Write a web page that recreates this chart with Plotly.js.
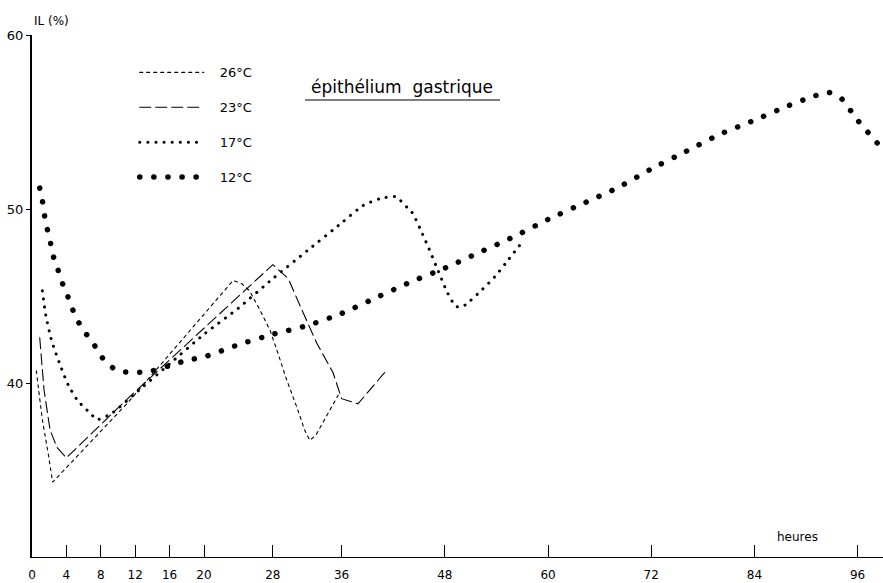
<!DOCTYPE html>
<html>
<head>
<meta charset="utf-8">
<script src="https://cdn.plot.ly/plotly-3.0.1.min.js"></script>
<style>
  html, body { margin: 0; padding: 0; background: #fff; }
  #chart { width: 883px; height: 583px; }
  .scatterlayer .js-line, .legendlines .js-line { stroke-linecap: round !important; }
</style>
</head>
<body>
<div id="chart"></div>
<script>
// ---- data ----
const seriesNames = ["26°C", "23°C", "17°C", "12°C"];

const hours26 = [0.5, 1.2, 1.9, 2.4, 11.2, 23.4, 24.4, 25.3, 26.5, 27.7, 28.6, 29.6, 30.8, 31.7, 32.3, 33.0, 35.6];
const vals26  = [40.7, 37.9, 35.9, 34.3, 38.9, 45.9, 45.7, 45.3, 44.2, 43.0, 41.7, 40.2, 38.6, 37.3, 36.7, 37.0, 39.3];

const hours23 = [0.9, 1.4, 2.1, 2.9, 4.0, 10.9, 28.0, 29.8, 31.2, 33.1, 35.0, 36.0, 37.9, 41.0];
const vals23  = [42.6, 39.6, 37.3, 36.3, 35.7, 39.0, 46.8, 46.0, 44.4, 42.3, 40.6, 39.1, 38.8, 40.6];

const hours17 = [1.2, 1.6, 2.3, 3.3, 4.2, 5.3, 6.7, 7.6, 9.4, 12, 16, 20, 24, 28, 32, 36, 38.5, 40.5, 42.3, 43.6, 44.2, 45.1, 46.0, 47.1, 48.3, 49.3, 50.1, 50.9, 52.4, 53.8, 55.1, 57.0];
const vals17  = [45.3, 43.9, 42.4, 41.0, 39.9, 39.0, 38.3, 37.9, 38.3, 39.4, 41.1, 42.8, 44.3, 46.0, 47.6, 49.2, 50.2, 50.6, 50.7, 50.1, 49.8, 48.9, 47.9, 46.6, 45.2, 44.4, 44.4, 44.7, 45.4, 46.1, 46.9, 48.1];

const hours12 = [0.9, 1.2, 1.4, 1.7, 2.1, 2.4, 2.9, 3.4, 4.0, 4.5, 5.2, 6.0, 7.0, 7.8, 8.8, 10, 12, 14, 16, 18, 20, 24, 28, 32, 36, 40, 44, 48, 52, 56, 60, 64, 68, 72, 76, 80, 84, 88, 91, 92.6, 94, 96, 98.8];
const vals12  = [51.2, 50.5, 49.8, 49.0, 48.2, 47.4, 46.7, 45.9, 45.2, 44.5, 43.7, 43.0, 42.4, 41.7, 41.1, 40.7, 40.6, 40.7, 41.0, 41.3, 41.5, 42.2, 42.8, 43.3, 44.0, 44.9, 45.8, 46.6, 47.5, 48.4, 49.4, 50.3, 51.2, 52.3, 53.3, 54.3, 55.1, 55.95, 56.5, 56.7, 56.4, 55.1, 53.5];

const xTickVals = [0, 4, 8, 12, 16, 20, 28, 36, 48, 60, 72, 84, 96];
const xTickText = ["0", "4", "8", "12", "16", "20", "28", "36", "48", "60", "72", "84", "96"];
const yTickVals = [40, 50, 60];
const yTickText = ["40", "50", "60"];

const chartTitle = "épithélium  gastrique";
const yLabel = "IL (%)";
const xLabel = "heures";

// ---- traces ----
const traces = [
  { x: hours26, y: vals26, name: seriesNames[0], legendgroup: "a", mode: "lines",
    line: { color: "#000", width: 1.1, dash: "3px,4px" } },
  { x: hours23, y: vals23, name: seriesNames[1], legendgroup: "b", mode: "lines",
    line: { color: "#000", width: 1.1, dash: "11px,5px" } },
  { x: hours17, y: vals17, name: seriesNames[2], legendgroup: "c", mode: "lines",
    line: { color: "#000", width: 3, dash: "0.1px,8px", shape: "spline", smoothing: 0.6 } },
  { x: hours12, y: vals12, name: seriesNames[3], legendgroup: "d", mode: "lines",
    line: { color: "#000", width: 5.5, dash: "0.1px,14px", shape: "spline", smoothing: 0.6 } }
];

const font = "DejaVu Sans, Liberation Sans, sans-serif";

const layout = {
  width: 883, height: 583,
  margin: { l: 32, r: 0, t: 35, b: 26 },
  paper_bgcolor: "#fff", plot_bgcolor: "#fff",
  font: { family: font, color: "#000", size: 12 },
  showlegend: true,
  legend: {
    x: 0.1207, xanchor: "left", y: 0.957, yanchor: "top",
    bgcolor: "rgba(0,0,0,0)", font: { family: font, size: 13, color: "#000" },
    tracegroupgap: 15, itemwidth: 30
  },
  xaxis: {
    range: [0, 98.95], showgrid: false, zeroline: false,
    showline: true, linecolor: "#000", linewidth: 1,
    ticks: "inside", ticklen: 12, tickwidth: 1, tickcolor: "#000",
    tickmode: "array", tickvals: xTickVals, ticktext: xTickText,
    ticklabelstandoff: 7,
    tickfont: { family: font, size: 12, color: "#000" }
  },
  yaxis: {
    range: [30, 60], showgrid: false, zeroline: false,
    showline: true, linecolor: "#000", linewidth: 2,
    ticks: "outside", ticklen: 4, tickwidth: 1, tickcolor: "#000",
    tickmode: "array", tickvals: yTickVals, ticktext: yTickText,
    tickfont: { family: font, size: 13, color: "#000" }
  },
  annotations: [
    { text: chartTitle, xref: "paper", yref: "paper", x: (402 - 32) / 851, y: 0.900,
      xanchor: "center", yanchor: "middle", showarrow: false,
      font: { family: font, size: 17, color: "#000" } },
    { text: yLabel, xref: "paper", yref: "paper", x: 0.0, y: 1.0, yshift: 14,
      xanchor: "left", yanchor: "middle", showarrow: false,
      font: { family: font, size: 12, color: "#000" } },
    { text: xLabel, xref: "paper", yref: "paper", x: (797 - 32) / 851, y: (557 - 537) / 522,
      xanchor: "center", yanchor: "middle", showarrow: false,
      font: { family: font, size: 12, color: "#000" } }
  ],
  shapes: [
    { type: "line", xref: "paper", yref: "paper",
      x0: (305 - 32) / 851, x1: (500 - 32) / 851,
      y0: (557 - 100) / 522, y1: (557 - 100) / 522,
      line: { color: "#000", width: 1.2 } }
  ]
};

Plotly.newPlot("chart", traces, layout, { staticPlot: true, displayModeBar: false }).then(function (gd) {
  // lengthen the legend samples to match the reference's long key lines
  gd.querySelectorAll(".legend .scrollbox").forEach(function (el) { el.removeAttribute("clip-path"); });
  gd.querySelectorAll(".legend .legendlines path").forEach(function (p) { p.setAttribute("d", "M5,0h64"); });
  gd.querySelectorAll(".legend text.legendtext").forEach(function (t) { t.setAttribute("x", "85"); });
});
</script>
</body>
</html>
